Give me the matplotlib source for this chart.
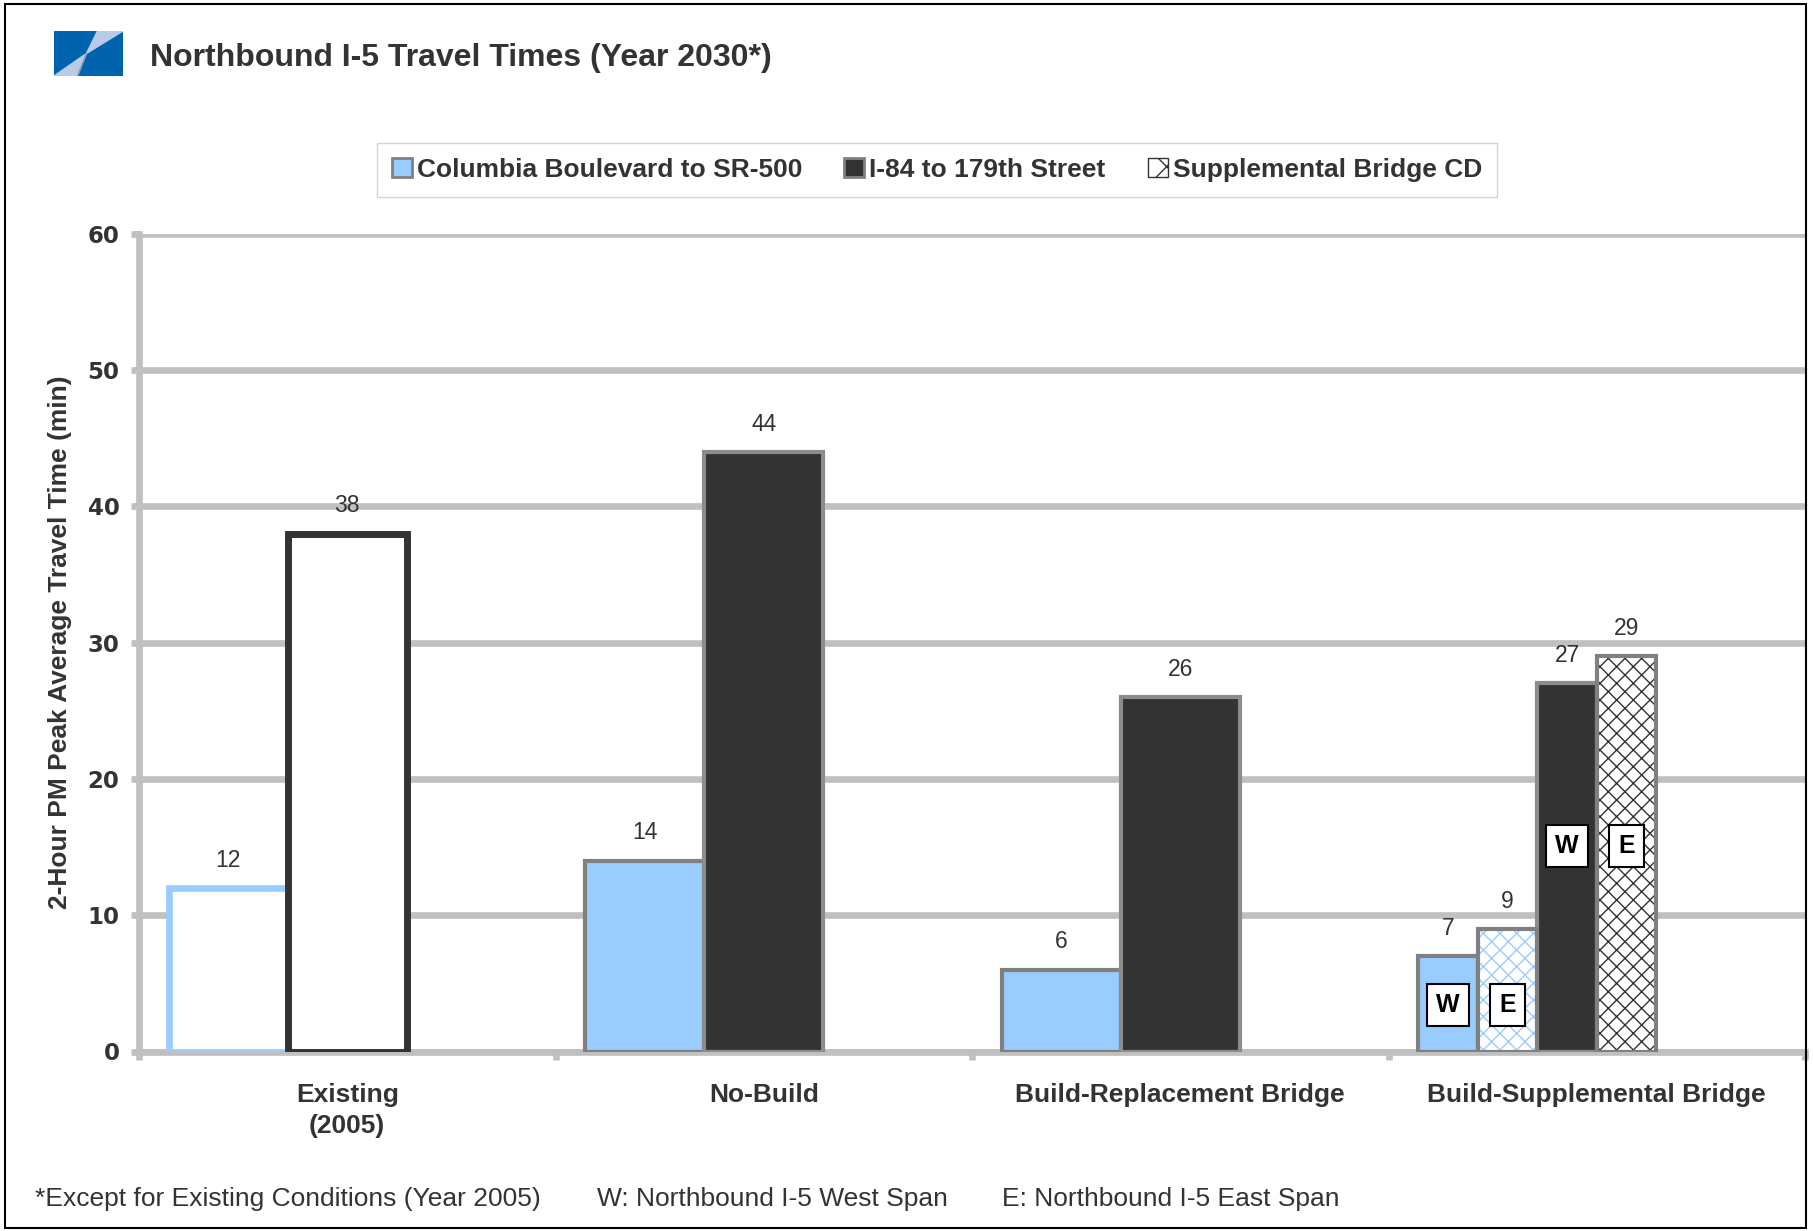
import numpy as np
import matplotlib.pyplot as plt
from matplotlib import font_manager
from matplotlib.patches import Patch, Rectangle, Polygon

categories = ['Existing\n(2005)', 'No-Build', 'Build-Replacement Bridge', 'Build-Supplemental Bridge']
series_names = ['Columbia Boulevard to SR-500', 'I-84 to 179th Street', 'Supplemental Bridge CD']

# minutes; last group holds the West span of the supplemental option
columbia = [12, 14, 6, 7]
i84 = [38, 44, 26, 27]
# East span (supplemental bridge CD) for the last group
columbia_east = 9
i84_east = 29

yticks = [0, 10, 20, 30, 40, 50, 60]
footnotes = ['*Except for Existing Conditions (Year 2005)',
             'W: Northbound I-5 West Span',
             'E: Northbound I-5 East Span']

names = {f.name for f in font_manager.fontManager.ttflist}
narrow = 'Liberation Sans Narrow' if 'Liberation Sans Narrow' in names else 'Liberation Sans'
arial = 'Liberation Sans'

BLUE = '#99CCFF'
DARK = '#333333'
GRID = '#C0C0C0'
EDGE = '#808080'
TXT = '#333333'

W, H = 1813, 1231
fig = plt.figure(figsize=(W / 100, H / 100), dpi=100)


def fx(px):
    return px / W


def fy(py):
    return 1 - py / H


# outer frame
fig.add_artist(Rectangle((fx(5), fy(1228)), fx(1806) - fx(5), fy(4) - fy(1228),
                         transform=fig.transFigure, fill=False, edgecolor='black', lw=1.5))

# logo
logo = fig.add_axes([fx(54), fy(76), fx(123) - fx(54), fy(31) - fy(76)])
logo.set_xlim(0, 1)
logo.set_ylim(0, 1)
logo.axis('off')
logo.add_patch(Rectangle((0, 0), 1, 1, color='#0063AE'))
logo.add_patch(Polygon([(0.63, 1), (1, 1), (0.47, 0.5)], color='#B8CCE8'))
logo.add_patch(Polygon([(0, 0), (0.34, 0), (0.47, 0.5)], color='#B8CCE8'))
logo.plot([0.34, 0.47], [0, 0.5], color='#8A9AB0', lw=1)

fig.text(fx(150), fy(58), 'Northbound I-5 Travel Times (Year 2030*)', family=narrow,
         fontsize=23, fontweight='bold', color=TXT, va='center', ha='left')

ax = fig.add_axes([fx(139), fy(1051.5), fx(1805) - fx(139), fy(233.7) - fy(1051.5)])
ax.set_xlim(0, 4)
ax.set_ylim(0, 60)
ax.set_yticks(yticks)
ax.set_yticklabels([str(t) for t in yticks], family='DejaVu Sans', fontweight='bold',
                   fontsize=16.5, color=TXT)
ax.set_xticks([0, 1, 2, 3, 4])
ax.set_xticklabels([])
ax.tick_params(axis='both', color=GRID, width=4.8, length=6, direction='out')
ax.tick_params(axis='y', pad=8)
for s in ['top', 'right']:
    ax.spines[s].set_visible(False)
for s in ['left', 'bottom']:
    ax.spines[s].set_color(GRID)
    ax.spines[s].set_linewidth(4.8)
ax.yaxis.grid(True, color=GRID, lw=4.8)
ax.set_axisbelow(True)
ax.patch.set_alpha(0)

centers = np.arange(4) + 0.5
w = 1 / 3.5

# Existing: outline-only bars
ax.bar(centers[0] - w, columbia[0], w, facecolor='white', edgecolor=BLUE, lw=4.8, zorder=3)
ax.bar(centers[0], i84[0], w, facecolor='white', edgecolor=DARK, lw=5, zorder=3)

# No-Build and Build-Replacement
ax.bar(centers[1:3] - w, columbia[1:3], w, facecolor=BLUE, edgecolor=EDGE, lw=3, zorder=3)
ax.bar(centers[1:3], i84[1:3], w, facecolor=DARK, edgecolor='#8C8C8C', lw=3, zorder=3)

# Build-Supplemental: West / East spans side by side
c = centers[3]
hw = w / 2
xs_w = [c - w - hw / 2, c - hw / 2]
xs_e = [c - w + hw / 2, c + hw / 2]
ax.bar(xs_w[0], columbia[3], hw, facecolor=BLUE, edgecolor=EDGE, lw=3, zorder=3)
ax.bar(xs_w[1], i84[3], hw, facecolor=DARK, edgecolor='#8C8C8C', lw=3, zorder=3)
ax.bar(xs_e[0], columbia_east, hw, facecolor='white', edgecolor=BLUE, lw=0,
       hatch='xx', zorder=3)
ax.bar(xs_e[0], columbia_east, hw, fill=False, edgecolor=EDGE, lw=3, zorder=4)
ax.bar(xs_e[1], i84_east, hw, facecolor='white', edgecolor='#333333', lw=0,
       hatch='xx', zorder=3)
ax.bar(xs_e[1], i84_east, hw, fill=False, edgecolor=EDGE, lw=3, zorder=4)

# value labels
label_x = list(centers[:3] - w) + list(centers[:3]) + xs_w + xs_e
label_v = columbia[:3] + i84[:3] + [columbia[3], i84[3], columbia_east, i84_east]
for xv, v in zip(label_x, label_v):
    ax.annotate(f'{v:.0f}', (xv, v), xytext=(0, 20), textcoords='offset points',
                ha='center', va='center', family=narrow, fontsize=16.5, color=TXT)

# span markers
box = dict(boxstyle='square,pad=0.36', facecolor='white', edgecolor='black', lw=1.5)
for xv, yv, t in [(xs_w[0], 3.4, 'W'), (xs_e[0], 3.4, 'E'),
                  (xs_w[1], 15.1, 'W'), (xs_e[1], 15.1, 'E')]:
    ax.text(xv, yv, t, ha='center', va='center', family=arial, fontweight='bold',
            fontsize=18, color='black', bbox=box, zorder=6)

# category labels
for xv, lab in zip(centers, categories):
    ax.text(xv, -0.038, lab, transform=ax.get_xaxis_transform(), ha='center', va='top',
            family=arial, fontweight='bold', fontsize=19, color=TXT, linespacing=1.4)

ax.set_ylabel('2-Hour PM Peak Average Travel Time (min)', family=narrow, fontweight='bold',
              fontsize=19, color=TXT)
ax.yaxis.set_label_coords(-(139 - 72) / (1805 - 139), 0.5)

handles = [Patch(facecolor=BLUE, edgecolor=EDGE, lw=2),
           Patch(facecolor=DARK, edgecolor=EDGE, lw=2),
           Patch(facecolor='white', edgecolor='#333333', hatch='x', lw=1)]
leg = fig.legend(handles, series_names, loc='center', bbox_to_anchor=(fx(937), fy(170)),
                 ncol=3, frameon=True, fancybox=False, edgecolor='#C8C8C8',
                 handlelength=0.75, handleheight=0.75, handletextpad=0.2,
                 columnspacing=1.6, borderpad=0.55,
                 prop=dict(family=narrow, weight='bold', size=19))
leg.get_frame().set_linewidth(1)
for t in leg.get_texts():
    t.set_color(TXT)

for px, s in zip([35, 597, 1002], footnotes):
    fig.text(fx(px), fy(1199), s, family=narrow, fontsize=19, color=TXT, va='center', ha='left')

fig.savefig('out.png', dpi=100)
